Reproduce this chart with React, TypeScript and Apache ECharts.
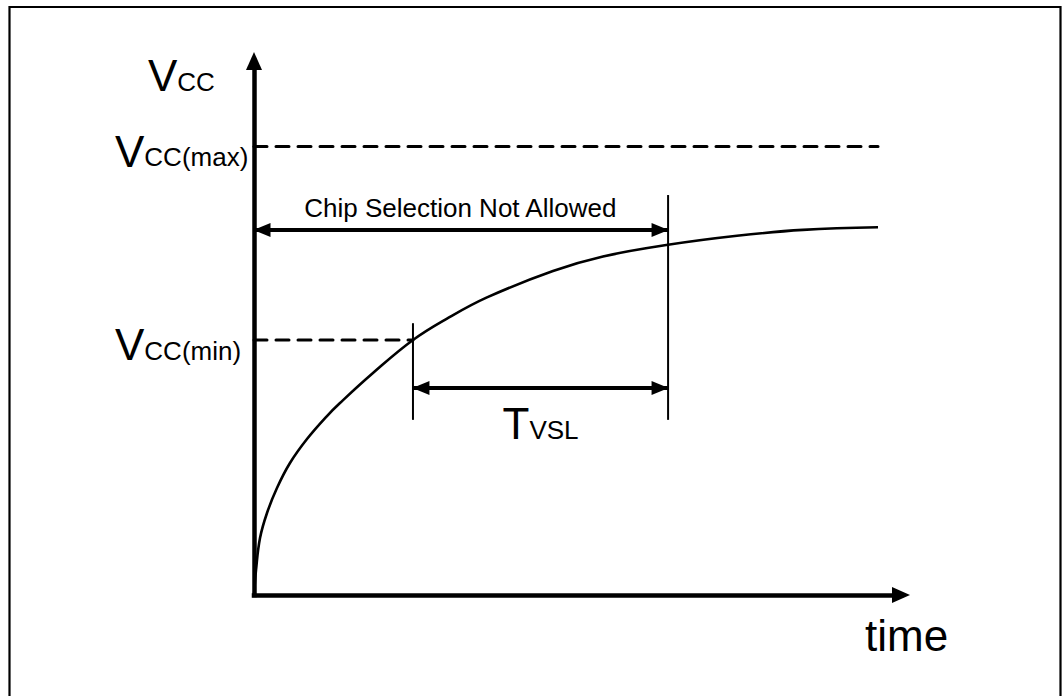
import React, { useEffect, useRef } from "react";
import * as echarts from "echarts";

// ---- data (time and Vcc in arbitrary units, 0..100 across each axis) ----
const timeAxisMax = 100;
const vccAxisMax = 100;
const curveTime = [0, 0.31, 0.93, 2.01, 3.55, 5.56, 8.19, 11.28, 13.29, 18.39, 24.57, 29.83, 36.01, 46.21, 53.94, 63.99, 74.65, 84.85, 96.45];
const curveVcc = [0, 4.68, 10.67, 15.36, 20.04, 24.72, 29.21, 33.52, 35.96, 41.57, 47.75, 51.76, 55.73, 60.67, 63.39, 65.58, 67.27, 68.37, 68.86];
const vccMax = 84;
const vccMin = 47.75;
const tVccMin = 24.57;
const tChipAllowed = 64;
const tEnd = 96.45;
const chipArrowLevel = 68.35;
const tvslArrowLevel = 38.76;
const markerTops = [50.9, 74.9];
const markerBottom = 32.8;
const vccLabel = ["V", "CC"];
const vccMaxLabel = ["V", "CC(max)"];
const vccMinLabel = ["V", "CC(min)"];
const tvslLabel = ["T", "VSL"];
const chipLabel = "Chip Selection Not Allowed";
const timeLabel = "time";

// ---- layout ----
const GRID = { left: 254, top: 61, width: 647, height: 534 };
const FONT = '"Liberation Sans", Arial, sans-serif';
const BIG = 44;
const SMALL = 26;
const CENTRAL = 0.3465; // distance from central to alphabetic baseline (em)

const px = (t: number) => GRID.left + (t / timeAxisMax) * GRID.width;
const py = (v: number) => GRID.top + (1 - v / vccAxisMax) * GRID.height;

let ctx: CanvasRenderingContext2D | null = null;
function measure(text: string, size: number) {
  if (!ctx) ctx = document.createElement("canvas").getContext("2d");
  if (!ctx) return text.length * size * 0.6;
  ctx.font = `${size}px ${FONT}`;
  return ctx.measureText(text).width;
}

function txt(text: string, x: number, baseline: number, size: number) {
  return {
    type: "text",
    x,
    y: baseline - CENTRAL * size,
    silent: true,
    style: {
      text,
      font: `${size}px ${FONT}`,
      fill: "#000",
      align: "left",
      verticalAlign: "middle",
      textAlign: "left",
      textVerticalAlign: "middle",
    },
  };
}

function subLabel(parts: string[], x: number, baseline: number) {
  return [
    txt(parts[0], x, baseline, BIG),
    txt(parts[1], x + measure(parts[0], BIG), baseline, SMALL),
  ];
}

export default function App() {
  const ref = useRef<HTMLDivElement>(null);
  useEffect(() => {
    if (!ref.current) return;
    const chart = echarts.init(ref.current, undefined, { renderer: "svg" });

    const tvslW = measure(tvslLabel[0], BIG) + measure(tvslLabel[1], SMALL);
    const tvslCenter = (px(tVccMin) + px(tChipAllowed)) / 2;
    const chipW = measure(chipLabel, SMALL);
    const chipCenter = (px(0) + px(tChipAllowed)) / 2;

    const graphic: any[] = [
      {
        type: "rect",
        silent: true,
        shape: { x: 9.5, y: 7, width: 1051, height: 720 },
        style: { fill: "none", stroke: "#000", lineWidth: 2.2 },
      },
      ...subLabel(vccLabel, 148, 91),
      ...subLabel(vccMaxLabel, 115, py(vccMax) + 20),
      ...subLabel(vccMinLabel, 115, py(vccMin) + 20),
      ...subLabel(tvslLabel, tvslCenter - tvslW / 2, py(tvslArrowLevel) + 51),
      txt(chipLabel, chipCenter - chipW / 2, py(chipArrowLevel) - 13, SMALL),
      txt(timeLabel, 865, 651, BIG),
    ];

    const axisCommon = {
      type: "value",
      min: 0,
      axisTick: { show: false },
      axisLabel: { show: false },
      splitLine: { show: false },
      axisLine: {
        show: true,
        symbol: ["none", "triangle"],
        symbolSize: [16, 18],
        lineStyle: { color: "#000", width: 4.5, cap: "square" },
      },
    };

    chart.setOption({
      animation: false,
      grid: { ...GRID, containLabel: false },
      xAxis: { ...axisCommon, max: timeAxisMax },
      yAxis: { ...axisCommon, max: vccAxisMax },
      graphic,
      series: [
        {
          type: "line",
          name: "Vcc",
          data: curveTime.map((t, i) => [t, curveVcc[i]]),
          smooth: 0.4,
          showSymbol: false,
          symbol: "none",
          clip: false,
          silent: true,
          lineStyle: { color: "#000", width: 2.6 },
          z: 3,
        },
        {
          type: "line",
          name: "Vcc(max)",
          data: [[0, vccMax], [tEnd, vccMax]],
          symbol: "none",
          silent: true,
          lineStyle: { color: "#000", width: 3, type: [13, 9], cap: "round" },
        },
        {
          type: "line",
          name: "Vcc(min)",
          data: [[0, vccMin], [tVccMin, vccMin]],
          symbol: "none",
          silent: true,
          lineStyle: { color: "#000", width: 3, type: [13, 9], cap: "round" },
        },
        {
          type: "line",
          name: "marker1",
          data: [[tVccMin, markerBottom], [tVccMin, markerTops[0]]],
          symbol: "none",
          silent: true,
          lineStyle: { color: "#000", width: 2 },
        },
        {
          type: "line",
          name: "marker2",
          data: [[tChipAllowed, markerBottom], [tChipAllowed, markerTops[1]]],
          symbol: "none",
          silent: true,
          lineStyle: { color: "#000", width: 2 },
          markLine: {
            silent: true,
            animation: false,
            symbol: ["triangle", "triangle"],
            symbolSize: [14, 17],
            symbolOffset: [[0, 8], [0, 8]],
            label: { show: false },
            emphasis: { disabled: true },
            lineStyle: { color: "#000", width: 4, type: "solid" },
            data: [
              [{ coord: [0, chipArrowLevel] }, { coord: [tChipAllowed, chipArrowLevel] }],
              [{ coord: [tVccMin, tvslArrowLevel] }, { coord: [tChipAllowed, tvslArrowLevel] }],
            ],
          },
        },
      ],
    });
    return () => chart.dispose();
  }, []);
  return (
    <div
      ref={ref}
      style={{ position: "absolute", left: 0, top: 0, width: 1063, height: 696, background: "#fff" }}
    />
  );
}
